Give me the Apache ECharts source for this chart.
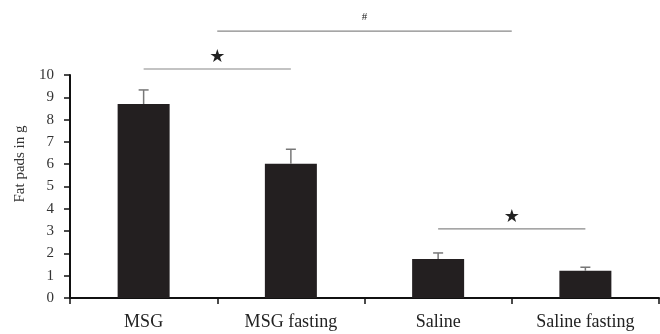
<!DOCTYPE html>
<html>
<head>
<meta charset="utf-8">
<script src="https://cdn.jsdelivr.net/npm/echarts@6/dist/echarts.min.js"></script>
<style>
html,body{margin:0;padding:0;background:#fff;}
#chart{width:660px;height:334px;}
</style>
</head>
<body>
<div id="chart"></div>
<script>
const categories = ['MSG', 'MSG fasting', 'Saline', 'Saline fasting'];
const means = [8.7, 6.02, 1.75, 1.22];
const sems = [0.63, 0.65, 0.27, 0.16];
const yTicks = [0, 1, 2, 3, 4, 5, 6, 7, 8, 9, 10];
// significance brackets (category positions, level in g, mark)
const sigStart = [0, 0.5, 2];
const sigEnd = [1, 2.5, 3];
const sigLevel = [10.27, 11.97, 3.1];
const sigMark = ['★', '#', '★'];

const chart = echarts.init(document.getElementById('chart'));
const serif = '"Liberation Serif", "DejaVu Serif", serif';

function catX(api, v) {
  const i = Math.floor(v), f = v - i;
  const a = api.coord([i, 0])[0];
  if (f === 0) return a;
  const b = api.coord([i + 1, 0])[0];
  return a + (b - a) * f;
}

chart.setOption({
  animation: false,
  backgroundColor: '#fff',
  grid: { left: 70, right: 1, top: 75, bottom: 36 },
  xAxis: {
    type: 'category',
    data: categories,
    axisLine: { lineStyle: { color: '#111', width: 2 } },
    axisTick: { show: true, length: 6, lineStyle: { color: '#111', width: 1.5 } },
    axisLabel: { fontFamily: serif, fontSize: 18, color: '#222', margin: 15 }
  },
  yAxis: {
    type: 'value',
    min: yTicks[0],
    max: yTicks[yTicks.length - 1],
    interval: 1,
    name: 'Fat pads in g',
    nameLocation: 'middle',
    nameGap: 42,
    nameTextStyle: { fontFamily: serif, fontSize: 15, color: '#333', padding: [0, 0, 0, 45] },
    splitLine: { show: false },
    axisLine: { show: true, lineStyle: { color: '#111', width: 2 } },
    axisTick: { show: true, length: 6, lineStyle: { color: '#111', width: 1.5 } },
    axisLabel: { fontFamily: serif, fontSize: 15, color: '#333', margin: 16 }
  },
  series: [
    {
      type: 'bar',
      data: means,
      barWidth: 52,
      itemStyle: { color: '#231f20' }
    },
    {
      type: 'custom',
      data: means.map((m, i) => [i, m, sems[i]]),
      z: 3,
      renderItem: function (params, api) {
        const i = api.value(0);
        const m = api.value(1);
        const e = api.value(2);
        const base = api.coord([i, m]);
        const top = api.coord([i, m + e]);
        const style = { stroke: '#777', lineWidth: 1.5 };
        return {
          type: 'group',
          children: [
            { type: 'line', shape: { x1: base[0], y1: base[1], x2: top[0], y2: top[1] }, style: style },
            { type: 'line', shape: { x1: top[0] - 5, y1: top[1], x2: top[0] + 5, y2: top[1] }, style: style }
          ]
        };
      }
    },
    {
      type: 'custom',
      clip: false,
      data: sigLevel.map((v, i) => [i, v]),
      z: 3,
      renderItem: function (params, api) {
        const k = params.dataIndex;
        const x1 = catX(api, sigStart[k]);
        const x2 = catX(api, sigEnd[k]);
        const y = api.coord([0, sigLevel[k]])[1];
        const isStar = sigMark[k] === '★';
        return {
          type: 'group',
          children: [
            { type: 'line', shape: { x1: x1, y1: y, x2: x2, y2: y }, style: { stroke: '#888', lineWidth: 1.2 } },
            {
              type: 'text',
              x: (x1 + x2) / 2,
              y: y - (isStar ? 12 : 14),
              style: {
                text: sigMark[k],
                fill: '#222',
                fontSize: isStar ? 18 : 11,
                fontFamily: isStar ? '"DejaVu Sans", sans-serif' : serif,
                align: 'center',
                verticalAlign: 'middle'
              }
            }
          ]
        };
      }
    }
  ]
});
</script>
</body>
</html>
